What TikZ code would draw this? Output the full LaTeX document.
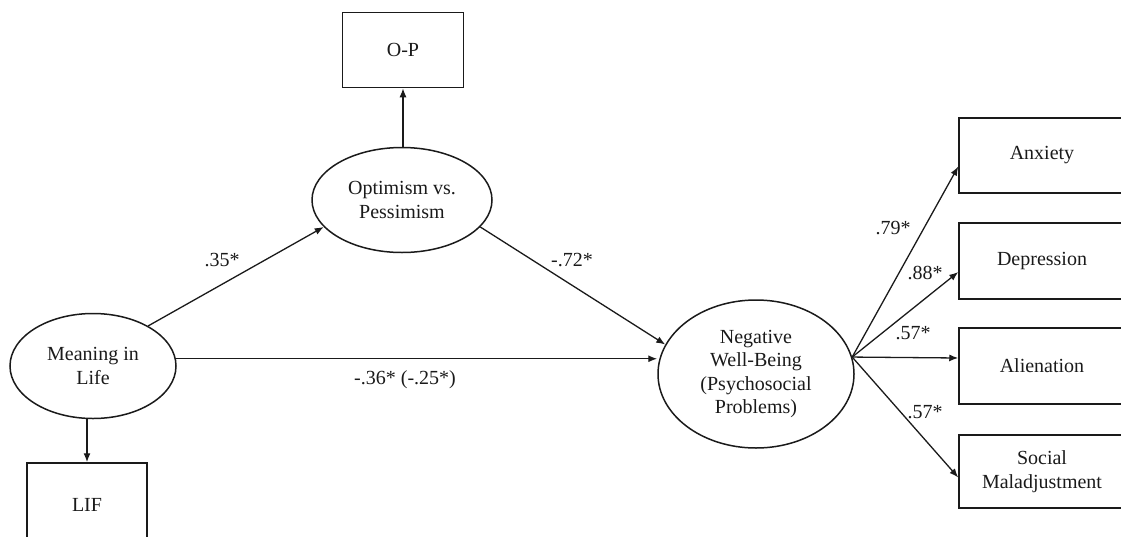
\documentclass[tikz,border=0pt]{standalone}
\usepackage{fontspec}
\setmainfont{Liberation Serif}
\usetikzlibrary{shapes.geometric, arrows.meta, positioning, calc}
\definecolor{inkdark}{HTML}{1A1A1A}

\begin{document}
\begin{tikzpicture}[x=1pt, y=-1pt,
  every node/.style={font=\fontsize{20}{23.5}\selectfont, text=inkdark, align=center},
  latent/.style={draw=inkdark, ellipse, line width=1.5pt, inner sep=0pt},
  observed/.style={draw=inkdark, rectangle, line width=1.5pt, inner sep=0pt},
  path/.style={draw=inkdark, line width=1.3pt, -{Latex[length=9pt, width=7pt]}},
  coef/.style={font=\fontsize{20}{23.5}\selectfont}]
  % Page frame
  \useasboundingbox (0,0) rectangle (1121,536);

  % Latent variables
  \node[latent, minimum width=166pt, minimum height=105pt] (mil) at (93,366) {Meaning in\\Life};
  \node[latent, minimum width=180pt, minimum height=105pt] (opt) at (402,200) {Optimism vs.\\Pessimism};
  \node[latent, minimum width=196pt, minimum height=148pt] (neg) at (756,374) {Negative\\Well-Being\\(Psychosocial\\Problems)};

  % Indicators
  \node[observed, minimum width=120pt, minimum height=84pt] (lif) at (87,505) {LIF};
  \node[observed, minimum width=121pt, minimum height=75pt] (op) at (403,50) {O-P};
  \node[observed, minimum width=166pt, minimum height=75pt] (anx) at (1042,155.5) {Anxiety};
  \node[observed, minimum width=166pt, minimum height=76pt] (dep) at (1042,261) {Depression};
  \node[observed, minimum width=166pt, minimum height=76pt] (ali) at (1042,366) {Alienation};
  \node[observed, minimum width=166pt, minimum height=73pt] (soc) at (1042,471.5) {Social\\Maladjustment};

  % Structural paths
  \draw[path] (mil.36) -- (opt.199);
  \draw[path] (opt.341) -- (neg.162);
  \draw[path] (mil.5) -- (neg.west |- mil.5);

  % Measurement paths
  \draw[path] (lif.north |- mil.south) -- (lif.north);
  \draw[path] (op.south |- opt.north) -- (op.south);
  \coordinate (fan) at (neg.10);
  \draw[path] (fan) -- ([yshift=-11pt]anx.west);
  \draw[path] (fan) -- ([yshift=-11pt]dep.west);
  \draw[path] (fan) -- ([yshift=8pt]ali.west);
  \draw[path] (fan) -- ([yshift=-6pt]soc.west);

  % Coefficients
  \node[coef] (c35) at (222,260) {.35*};
  \node[coef] (c72) at (572,260) {-.72*};
  \node[coef] (c36) at (405,380) {-.36* (-.25*)};
  \node[coef] (c79) at (893,228) {.79*};
  \node[coef] (c88) at (925,273) {.88*};
  \node[coef] (c57a) at (913,333) {.57*};
  \node[coef] (c57b) at (925,412) {.57*};
\end{tikzpicture}
\end{document}
